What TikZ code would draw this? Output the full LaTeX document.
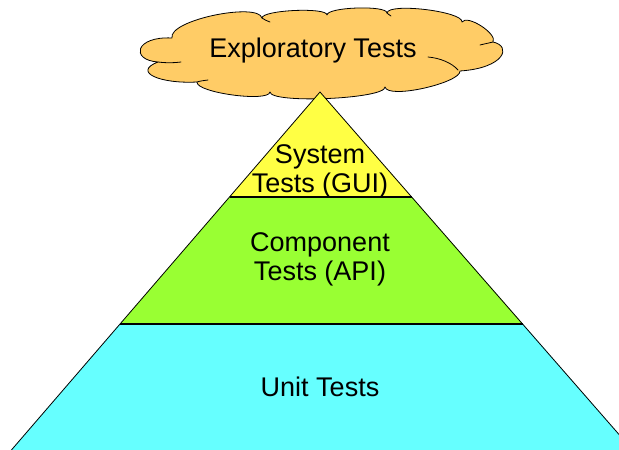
\documentclass[tikz,border=0pt]{standalone}
\usepackage{fontspec}
\setmainfont{Liberation Sans}
\definecolor{cloudfill}{HTML}{FFCC66}
\definecolor{sysfill}{HTML}{FFFF44}
\definecolor{compfill}{HTML}{99FF33}
\definecolor{unitfill}{HTML}{66FFFF}
\tikzset{
  lbl/.style={align=center,font=\fontsize{27}{29}\selectfont,inner sep=0pt},
  edge/.style={draw=black,line width=0.8pt,line join=round},
  hook/.style={draw=black,line width=0.8pt,line cap=round},
}
\begin{document}
\begin{tikzpicture}[x=1pt,y=-1pt]
\useasboundingbox (0,0) rectangle (619,450);
% cloud
\path[edge,fill=cloudfill] (158,62)
  .. controls (130,60) and (135,36) .. (172,38)
  .. controls (168,20) and (258,2) .. (262,18)
  .. controls (262,10) and (327,7) .. (327,15)
  .. controls (327,7) and (387,5) .. (387,13)
  .. controls (388.3,2.4) and (463.3,11.4) .. (462,22)
  .. controls (467,14) and (498,34) .. (493,42)
  .. controls (512,46) and (505,68) .. (460,71)
  .. controls (461,82.7) and (388,99.7) .. (385,87)
  .. controls (385.5,99) and (270.5,104) .. (270,92)
  .. controls (268.5,102.6) and (195.5,92.6) .. (197,82)
  .. controls (160,84) and (132,72) .. cycle;
\draw[hook] (158,62) .. controls (166,63) and (174,63) .. (181,62);
\draw[hook] (197,82) .. controls (200,81) and (204,80.5) .. (208,80);
\draw[hook] (262,18) .. controls (264,19.5) and (267,21) .. (270,22);
\draw[hook] (387,13) .. controls (388,14) and (389.5,15) .. (391,16);
\draw[hook] (493,42) .. controls (489,43) and (484,44) .. (480,45);
\draw[hook] (428,57) .. controls (440,58) and (452,63) .. (458,70);
\node[lbl] (explo) at (313,51) {Exploratory Tests};
% pyramid
\coordinate (apex) at (320,92);
\coordinate (sl) at (229.5,197);
\coordinate (sr) at (412,197);
\coordinate (cl) at (120,324);
\coordinate (cr) at (523,324);
\coordinate (bl) at (11,450.5);
\coordinate (br) at (633,450.5);
\begin{scope}
\clip (0,0) rectangle (619,450);
\fill[unitfill] (cl) -- (cr) -- (br) -- (bl) -- cycle;
\fill[compfill] (sl) -- (sr) -- (cr) -- (cl) -- cycle;
\fill[sysfill] (apex) -- (sr) -- (sl) -- cycle;
\draw[edge] (bl) -- (apex) -- (br);
\draw[edge,line width=1.1pt] (sl) -- (sr);
\draw[edge,line width=1.1pt] (cl) -- (cr);
\end{scope}
\node[lbl] (sys) at (320,171) {System\\Tests (GUI)};
\node[lbl] (comp) at (320,259) {Component\\Tests (API)};
\node[lbl] (unit) at (320,387) {Unit Tests};
\end{tikzpicture}
\end{document}
